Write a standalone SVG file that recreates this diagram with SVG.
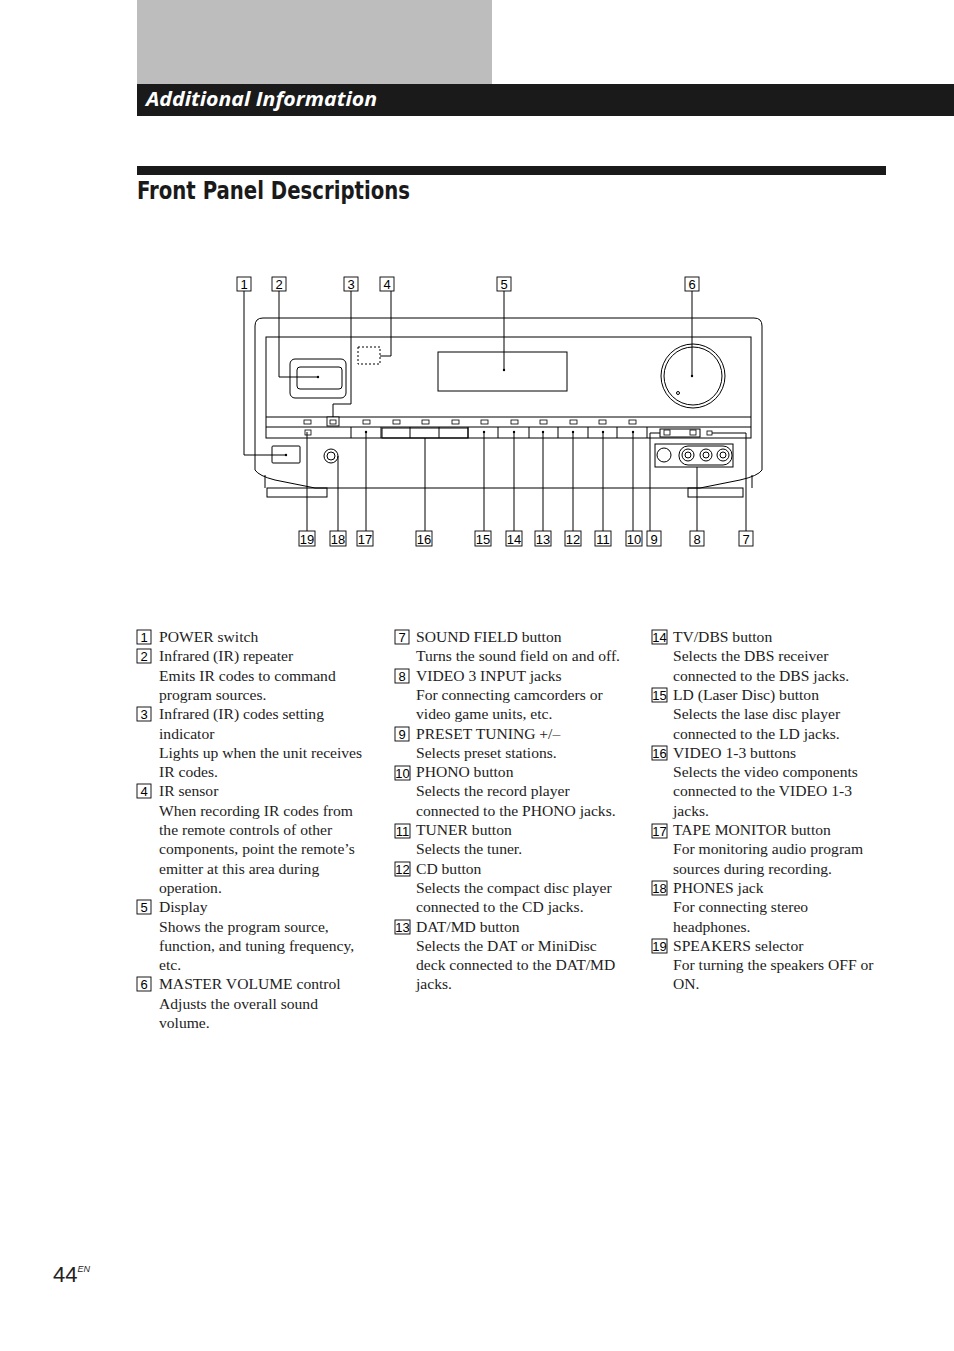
<svg xmlns="http://www.w3.org/2000/svg" width="954" height="1351" viewBox="0 0 954 1351">
<style>
.ln{fill:none;stroke:#000;stroke-width:1}
.bx{fill:#fff;stroke:#000;stroke-width:0.9}
.n{font-family:"Liberation Sans",Arial,sans-serif;font-size:13px;text-anchor:middle}
.t{font-family:"Liberation Serif","Times New Roman",serif;font-size:15.6px;fill:#222}
.led{fill:#fff;stroke:#000;stroke-width:0.8}
</style>
<rect width="954" height="1351" fill="#fff"/>
<g id="header">
<rect x="137" y="0" width="355" height="84" fill="#bdbdbd"/>
<rect x="137" y="84" width="817" height="32" fill="#1a1a1a"/>
<text x="146" y="106" font-family="'Open Sans','DejaVu Sans',sans-serif" font-size="19" font-weight="bold" font-style="italic" fill="#fff" textLength="231" lengthAdjust="spacingAndGlyphs">Additional Information</text>
<rect x="137" y="166" width="749" height="9" fill="#1a1a1a"/>
<text x="137" y="199" font-family="'Liberation Sans Narrow','DejaVu Sans Condensed',sans-serif" font-size="25" font-weight="bold" fill="#1a1a1a" textLength="273" lengthAdjust="spacingAndGlyphs">Front Panel Descriptions</text>
</g>
<g id="device">
<path class="ln" stroke-width="2" d="M255,470 V326 Q255,318 263,318 H754 Q762,318 762,326 V470 Q758,476 740,480 L700,488 H315 L275,480 Q259,476 255,470 Z"/>
<path class="ln" d="M265,488 V475 M752,488 V475"/>
<rect class="ln" x="266" y="337" width="485" height="101"/>
<line class="ln" x1="266" y1="417" x2="751" y2="417"/>
<line class="ln" x1="266" y1="427" x2="751" y2="427"/>
<rect class="ln" x="267" y="488" width="60" height="9"/>
<rect class="ln" x="688" y="488" width="55" height="9"/>
<rect class="ln" x="290" y="359" width="56" height="39" rx="5"/>
<rect class="ln" x="297" y="367" width="45" height="22" rx="3"/>
<rect x="358" y="347" width="22" height="17" fill="none" stroke="#000" stroke-dasharray="2,2"/>
<rect class="ln" x="438" y="352" width="129" height="39"/>
<circle class="ln" cx="693" cy="376" r="32" stroke-width="1.5"/>
<circle class="ln" cx="693" cy="376" r="29"/>
<circle class="ln" cx="678" cy="393" r="1.5"/>
<g>
<rect class="led" x="304" y="420" width="7" height="4"/>
<rect class="bx" x="327" y="417" width="12" height="9"/><rect class="led" x="330" y="420" width="6" height="4"/>
<rect class="led" x="363" y="420" width="7" height="4"/>
<rect class="led" x="393" y="420" width="7" height="4"/>
<rect class="led" x="422" y="420" width="7" height="4"/>
<rect class="led" x="452" y="420" width="7" height="4"/>
<rect class="led" x="481" y="420" width="7" height="4"/>
<rect class="led" x="511" y="420" width="7" height="4"/>
<rect class="led" x="540" y="420" width="7" height="4"/>
<rect class="led" x="570" y="420" width="7" height="4"/>
<rect class="led" x="599" y="420" width="7" height="4"/>
<rect class="led" x="629" y="420" width="7" height="4"/>
</g>
<path class="ln" d="M351,427 V438 M381,427 V438 M410,427 V438 M439,427 V438 M468,427 V438 M498,427 V438 M529,427 V438 M558,427 V438 M588,427 V438 M617,427 V438 M647,427 V438"/>
<rect class="ln" x="382" y="428" width="86" height="10" stroke-width="1.5"/>
<rect class="led" x="305" y="430" width="6" height="5"/>
<rect class="ln" x="660" y="429" width="40" height="8"/>
<rect class="led" x="664" y="430" width="6" height="5"/><rect class="led" x="690" y="430" width="6" height="5"/>
<rect class="led" x="707" y="431" width="5" height="4"/>
<rect class="ln" x="272" y="446" width="28" height="17" rx="1"/>
<circle class="ln" cx="331" cy="456" r="7"/><circle class="ln" cx="331" cy="456" r="4"/>
<rect class="ln" x="655" y="444" width="78" height="23"/>
<circle class="ln" cx="664" cy="455" r="7"/>
<rect class="ln" x="679" y="446" width="53" height="19" rx="9"/>
<circle class="ln" cx="688" cy="455" r="6"/><circle class="ln" cx="706" cy="455" r="6"/><circle class="ln" cx="723" cy="455" r="6"/>
<circle class="ln" cx="688" cy="455" r="3"/><circle class="ln" cx="706" cy="455" r="3"/><circle class="ln" cx="723" cy="455" r="3"/>
</g>
<g id="connectors" class="ln">
<path d="M244,291 V455 H286"/>
<path d="M279,291 V377 H318"/>
<path d="M351,291 V404 H333 V417"/>
<path d="M391,291 V356 H380"/>
<path d="M504,291 V370"/>
<path d="M692,291 V376"/>
<path d="M307,432 V531"/><path d="M338,456 V531"/><path d="M366,432 V531"/><path d="M425,438 V531"/>
<path d="M484,432 V531"/><path d="M514,432 V531"/><path d="M543,432 V531"/><path d="M573,432 V531"/><path d="M603,432 V531"/><path d="M633,432 V531"/>
<path d="M650,531 V433 H660"/>
<path d="M697,467 V531"/>
<path d="M746,531 V433 H712"/>
<g fill="#000" stroke="none">
<circle cx="286" cy="455" r="1.2"/><circle cx="318" cy="377" r="1.2"/><circle cx="504" cy="370" r="1.2"/><circle cx="692" cy="376" r="1.2"/>
<circle cx="366" cy="432" r="1.2"/><circle cx="484" cy="432" r="1.2"/><circle cx="514" cy="432" r="1.2"/><circle cx="543" cy="432" r="1.2"/><circle cx="573" cy="432" r="1.2"/><circle cx="603" cy="432" r="1.2"/><circle cx="633" cy="432" r="1.2"/>
</g>
</g>
<g id="callouts">
<rect class="bx" x="237" y="277" width="14" height="14"/><text class="n" x="244" y="289">1</text>
<rect class="bx" x="272" y="277" width="14" height="14"/><text class="n" x="279" y="289">2</text>
<rect class="bx" x="344" y="277" width="14" height="14"/><text class="n" x="351" y="289">3</text>
<rect class="bx" x="380" y="277" width="14" height="14"/><text class="n" x="387" y="289">4</text>
<rect class="bx" x="497" y="277" width="14" height="14"/><text class="n" x="504" y="289">5</text>
<rect class="bx" x="685" y="277" width="14" height="14"/><text class="n" x="692" y="289">6</text>
<rect class="bx" x="299" y="531" width="16" height="15"/><text class="n" x="307" y="544">19</text>
<rect class="bx" x="330" y="531" width="16" height="15"/><text class="n" x="338" y="544">18</text>
<rect class="bx" x="357" y="531" width="16" height="15"/><text class="n" x="365" y="544">17</text>
<rect class="bx" x="416" y="531" width="16" height="15"/><text class="n" x="424" y="544">16</text>
<rect class="bx" x="475" y="531" width="16" height="15"/><text class="n" x="483" y="544">15</text>
<rect class="bx" x="506" y="531" width="16" height="15"/><text class="n" x="514" y="544">14</text>
<rect class="bx" x="535" y="531" width="16" height="15"/><text class="n" x="543" y="544">13</text>
<rect class="bx" x="565" y="531" width="16" height="15"/><text class="n" x="573" y="544">12</text>
<rect class="bx" x="595" y="531" width="16" height="15"/><text class="n" x="603" y="544">11</text>
<rect class="bx" x="626" y="531" width="16" height="15"/><text class="n" x="634" y="544">10</text>
<rect class="bx" x="647" y="531" width="14" height="15"/><text class="n" x="654" y="544">9</text>
<rect class="bx" x="690" y="531" width="14" height="15"/><text class="n" x="697" y="544">8</text>
<rect class="bx" x="739" y="531" width="14" height="15"/><text class="n" x="746" y="544">7</text>
</g>
<g id="legend-boxes">
<rect class="bx" x="137" y="630" width="14" height="14"/><text class="n" x="144" y="642">1</text>
<rect class="bx" x="137" y="649" width="14" height="14"/><text class="n" x="144" y="661">2</text>
<rect class="bx" x="137" y="707" width="14" height="14"/><text class="n" x="144" y="719">3</text>
<rect class="bx" x="137" y="784" width="14" height="14"/><text class="n" x="144" y="796">4</text>
<rect class="bx" x="137" y="900" width="14" height="14"/><text class="n" x="144" y="912">5</text>
<rect class="bx" x="137" y="977" width="14" height="14"/><text class="n" x="144" y="989">6</text>
<rect class="bx" x="395" y="630" width="14" height="14"/><text class="n" x="402" y="642">7</text>
<rect class="bx" x="395" y="669" width="14" height="14"/><text class="n" x="402" y="681">8</text>
<rect class="bx" x="395" y="727" width="14" height="14"/><text class="n" x="402" y="739">9</text>
<rect class="bx" x="395" y="766" width="15" height="14"/><text class="n" x="402.5" y="778">10</text>
<rect class="bx" x="395" y="824" width="15" height="14"/><text class="n" x="402.5" y="836">11</text>
<rect class="bx" x="395" y="862" width="15" height="14"/><text class="n" x="402.5" y="874">12</text>
<rect class="bx" x="395" y="920" width="15" height="14"/><text class="n" x="402.5" y="932">13</text>
<rect class="bx" x="652" y="630" width="15" height="14"/><text class="n" x="659.5" y="642">14</text>
<rect class="bx" x="652" y="688" width="15" height="14"/><text class="n" x="659.5" y="700">15</text>
<rect class="bx" x="652" y="746" width="15" height="14"/><text class="n" x="659.5" y="758">16</text>
<rect class="bx" x="652" y="824" width="15" height="14"/><text class="n" x="659.5" y="836">17</text>
<rect class="bx" x="652" y="881" width="15" height="14"/><text class="n" x="659.5" y="893">18</text>
<rect class="bx" x="652" y="939" width="15" height="14"/><text class="n" x="659.5" y="951">19</text>
</g>
<g id="legend-text">
<text class="t" y="642"><tspan x="159">POWER switch</tspan><tspan x="159" dy="19.3">Infrared (IR) repeater</tspan><tspan x="159" dy="19.3">Emits IR codes to command</tspan><tspan x="159" dy="19.3">program sources.</tspan><tspan x="159" dy="19.3">Infrared (IR) codes setting</tspan><tspan x="159" dy="19.3">indicator</tspan><tspan x="159" dy="19.3">Lights up when the unit receives</tspan><tspan x="159" dy="19.3">IR codes.</tspan><tspan x="159" dy="19.3">IR sensor</tspan><tspan x="159" dy="19.3">When recording IR codes from</tspan><tspan x="159" dy="19.3">the remote controls of other</tspan><tspan x="159" dy="19.3">components, point the remote’s</tspan><tspan x="159" dy="19.3">emitter at this area during</tspan><tspan x="159" dy="19.3">operation.</tspan><tspan x="159" dy="19.3">Display</tspan><tspan x="159" dy="19.3">Shows the program source,</tspan><tspan x="159" dy="19.3">function, and tuning frequency,</tspan><tspan x="159" dy="19.3">etc.</tspan><tspan x="159" dy="19.3">MASTER VOLUME control</tspan><tspan x="159" dy="19.3">Adjusts the overall sound</tspan><tspan x="159" dy="19.3">volume.</tspan></text>
<text class="t" y="642"><tspan x="416">SOUND FIELD button</tspan><tspan x="416" dy="19.3">Turns the sound field on and off.</tspan><tspan x="416" dy="19.3">VIDEO 3 INPUT jacks</tspan><tspan x="416" dy="19.3">For connecting camcorders or</tspan><tspan x="416" dy="19.3">video game units, etc.</tspan><tspan x="416" dy="19.3">PRESET TUNING +/–</tspan><tspan x="416" dy="19.3">Selects preset stations.</tspan><tspan x="416" dy="19.3">PHONO button</tspan><tspan x="416" dy="19.3">Selects the record player</tspan><tspan x="416" dy="19.3">connected to the PHONO jacks.</tspan><tspan x="416" dy="19.3">TUNER button</tspan><tspan x="416" dy="19.3">Selects the tuner.</tspan><tspan x="416" dy="19.3">CD button</tspan><tspan x="416" dy="19.3">Selects the compact disc player</tspan><tspan x="416" dy="19.3">connected to the CD jacks.</tspan><tspan x="416" dy="19.3">DAT/MD button</tspan><tspan x="416" dy="19.3">Selects the DAT or MiniDisc</tspan><tspan x="416" dy="19.3">deck connected to the DAT/MD</tspan><tspan x="416" dy="19.3">jacks.</tspan></text>
<text class="t" y="642"><tspan x="673">TV/DBS button</tspan><tspan x="673" dy="19.3">Selects the DBS receiver</tspan><tspan x="673" dy="19.3">connected to the DBS jacks.</tspan><tspan x="673" dy="19.3">LD (Laser Disc) button</tspan><tspan x="673" dy="19.3">Selects the lase disc player</tspan><tspan x="673" dy="19.3">connected to the LD jacks.</tspan><tspan x="673" dy="19.3">VIDEO 1-3 buttons</tspan><tspan x="673" dy="19.3">Selects the video components</tspan><tspan x="673" dy="19.3">connected to the VIDEO 1-3</tspan><tspan x="673" dy="19.3">jacks.</tspan><tspan x="673" dy="19.3">TAPE MONITOR button</tspan><tspan x="673" dy="19.3">For monitoring audio program</tspan><tspan x="673" dy="19.3">sources during recording.</tspan><tspan x="673" dy="19.3">PHONES jack</tspan><tspan x="673" dy="19.3">For connecting stereo</tspan><tspan x="673" dy="19.3">headphones.</tspan><tspan x="673" dy="19.3">SPEAKERS selector</tspan><tspan x="673" dy="19.3">For turning the speakers OFF or</tspan><tspan x="673" dy="19.3">ON.</tspan></text>
</g>
<g id="footer">
<text x="53" y="1282" font-family="'Liberation Sans',Arial,sans-serif" font-size="22" fill="#222">44<tspan font-size="9" font-style="italic" dy="-10">EN</tspan></text>
</g>
</svg>
